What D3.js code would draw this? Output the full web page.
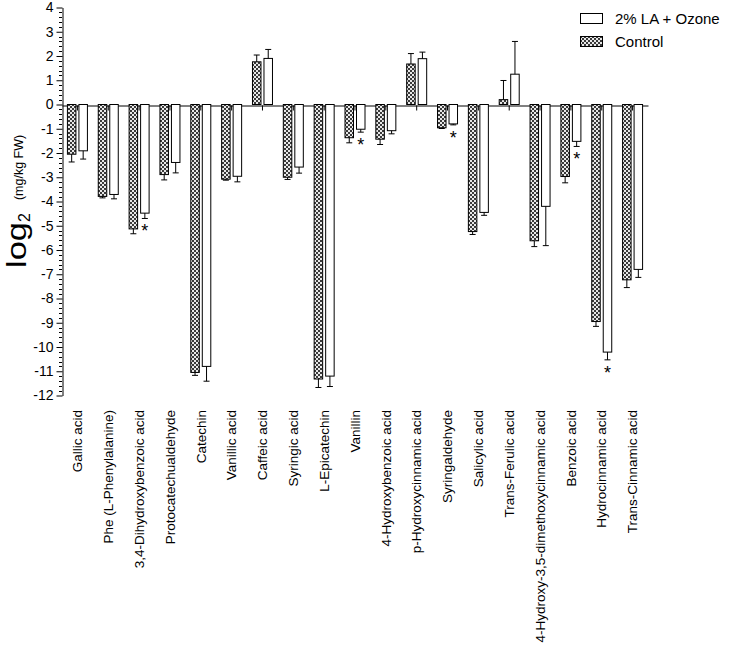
<!DOCTYPE html>
<html>
<head>
<meta charset="utf-8">
<script src="https://cdn.jsdelivr.net/npm/d3@7"></script>
<style>
  html, body { margin: 0; padding: 0; background: #fff; }
  svg { display: block; }
  text { font-family: "Liberation Sans", Arial, sans-serif; fill: #000; }
</style>
</head>
<body>
<script>
// ---- data ----
const categories = ["Gallic acid","Phe (L-Phenylalanine)","3,4-Dihydroxybenzoic acid","Protocatechualdehyde","Catechin","Vanillic acid","Caffeic acid","Syringic acid","L-Epicatechin","Vanillin","4-Hydroxybenzoic acid","p-Hydroxycinnamic acid","Syringaldehyde","Salicylic acid","Trans-Ferulic acid","4-Hydroxy-3,5-dimethoxycinnamic acid","Benzoic acid","Hydrocinnamic acid","Trans-Cinnamic acid"];
const controlValues = [-2.05, -3.79, -5.13, -2.89, -11.05, -3.08, 1.76, -3.0, -11.32, -1.37, -1.43, 1.67, -0.96, -5.24, 0.2, -5.62, -2.97, -8.95, -7.23];
const controlErrors = [0.32, 0.06, 0.2, 0.22, 0.12, 0.04, 0.28, 0.09, 0.35, 0.21, 0.22, 0.43, 0.03, 0.12, 0.79, 0.24, 0.26, 0.2, 0.32];
const treatedValues = [-1.91, -3.71, -4.48, -2.39, -10.8, -2.96, 1.90, -2.58, -11.2, -1.02, -1.08, 1.89, -0.80, -4.45, 1.25, -4.20, -1.52, -10.21, -6.80];
const treatedErrors = [0.34, 0.18, 0.22, 0.43, 0.61, 0.23, 0.37, 0.25, 0.43, 0.12, 0.13, 0.27, 0.04, 0.12, 1.35, 1.62, 0.21, 0.32, 0.33];
const significant = [false,false,true,false,false,false,false,false,false,true,false,false,true,false,false,false,true,true,false];
const yTicks = [4,3,2,1,0,-1,-2,-3,-4,-5,-6,-7,-8,-9,-10,-11,-12];
const seriesNames = ["2% LA + Ozone", "Control"];

const W = 731, H = 669;
const svg = d3.select("body").append("svg").attr("width", W).attr("height", H);
svg.append("rect").attr("width", W).attr("height", H).attr("fill", "#fff");

// pattern for control bars
const defs = svg.append("defs");
const pat = defs.append("pattern").attr("id", "checker").attr("patternUnits", "userSpaceOnUse")
  .attr("width", 4).attr("height", 4);
pat.append("rect").attr("width", 4).attr("height", 4).attr("fill", "#e8e8e8");
pat.append("rect").attr("x", 0).attr("y", 0).attr("width", 2).attr("height", 2).attr("fill", "#3a3a3a");
pat.append("rect").attr("x", 2).attr("y", 2).attr("width", 2).attr("height", 2).attr("fill", "#3a3a3a");

const x = d3.scaleBand().domain(categories).range([62, 648]).padding(0);
const y = d3.scaleLinear().domain([-12, 4]).range([395.5, 7.5]);
const cx = d => x(d) + x.bandwidth() / 2;

// y axis minor ticks
const minor = d3.range(-12, 4.0001, 0.2).filter(v => Math.abs(v - Math.round(v)) > 1e-6);
svg.append("g").selectAll("line").data(minor).join("line")
  .attr("x1", 59).attr("x2", 62)
  .attr("y1", d => Math.round(y(d)) + 0.5).attr("y2", d => Math.round(y(d)) + 0.5)
  .attr("stroke", "#000").attr("stroke-width", 1);

const yAxis = d3.axisLeft(y).tickValues(yTicks).tickSize(6).tickSizeOuter(0).tickPadding(3)
  .tickFormat(d => d < 0 ? "-" + Math.abs(d) : String(d));
const gy = svg.append("g").attr("transform", "translate(62.5,0)").call(yAxis);
gy.selectAll("text").style("font-size", "14px").style("font-family", "'Liberation Sans', Arial, sans-serif");
gy.select(".domain").attr("stroke", "#000");

// x axis at zero
const xAxis = d3.axisBottom(x).tickSize(5).tickSizeOuter(0).tickFormat("");
const gx = svg.append("g").attr("transform", `translate(0,${Math.round(y(0)) + 0.5})`).call(xAxis);
gx.select(".domain").attr("stroke", "#000");

// category labels
svg.append("g").selectAll("text").data(categories).join("text")
  .attr("transform", d => `translate(${cx(d)},410) rotate(-90)`)
  .attr("text-anchor", "end").attr("dy", "0.35em")
  .style("font-size", "13.5px")
  .text(d => d);

const bw = 8.5;
const rows = categories.map((c, i) => ({c, i}));

function drawSeries(values, errors, offset, fill) {
  const g = svg.append("g");
  g.selectAll("rect").data(rows).join("rect")
    .attr("x", d => cx(d.c) + offset)
    .attr("y", d => Math.min(y(values[d.i]), y(0)))
    .attr("width", bw)
    .attr("height", d => Math.abs(y(values[d.i]) - y(0)))
    .attr("fill", fill).attr("stroke", "#000").attr("stroke-width", 1);
  const eb = g.append("g");
  rows.forEach(d => {
    const v = values[d.i], e = errors[d.i];
    const end = v >= 0 ? v + e : v - e;
    const mx = cx(d.c) + offset + bw / 2;
    eb.append("line").attr("x1", mx).attr("x2", mx).attr("y1", y(v)).attr("y2", y(end))
      .attr("stroke", "#000").attr("stroke-width", 1);
    eb.append("line").attr("x1", mx - 3).attr("x2", mx + 3).attr("y1", y(end)).attr("y2", y(end))
      .attr("stroke", "#000").attr("stroke-width", 1);
  });
}
drawSeries(controlValues, controlErrors, -10, "url(#checker)");
drawSeries(treatedValues, treatedErrors, 1.5, "#fff");

// significance stars
svg.append("g").selectAll("text").data(rows.filter(d => significant[d.i])).join("text")
  .attr("x", d => cx(d.c) + 1.5 + bw / 2)
  .attr("y", d => y(treatedValues[d.i] - treatedErrors[d.i]) + 19)
  .attr("text-anchor", "middle")
  .style("font-size", "18px")
  .text("*");

// y axis title
const yt = svg.append("text").attr("transform", "translate(26,268) rotate(-90)").attr("text-anchor", "start");
yt.append("tspan").style("font-size", "27px").attr("textLength", 46).attr("lengthAdjust", "spacingAndGlyphs").text("log");
yt.append("tspan").style("font-size", "16px").attr("dy", 4).text("2");
yt.append("tspan").style("font-size", "12.5px").attr("dy", -7).attr("dx", 13).text("(mg/kg FW)");

// legend
const lg = svg.append("g");
const legendFills = ["#fff", "url(#checker)"];
seriesNames.forEach((n, i) => {
  lg.append("rect").attr("x", 580.5).attr("y", 13.5 + i * 23).attr("width", 22).attr("height", 10)
    .attr("fill", legendFills[i]).attr("stroke", "#000").attr("stroke-width", 1);
  lg.append("text").attr("x", 615).attr("y", 24 + i * 23).style("font-size", "15px").text(n);
});
</script>
</body>
</html>
